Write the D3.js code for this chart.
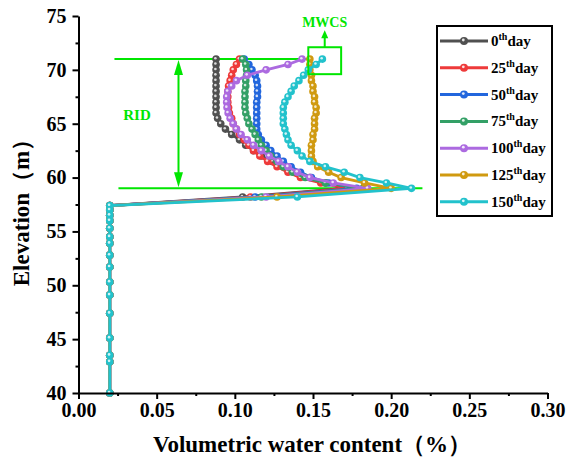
<!DOCTYPE html>
<html>
<head>
<meta charset="utf-8">
<script src="https://cdn.jsdelivr.net/npm/d3@7"></script>
<style>
  body { margin: 0; background: #fff; }
  text { font-family: "Liberation Serif", "Times New Roman", serif; font-weight: bold; }
</style>
</head>
<body>
<script>
// data
var days = ["0", "25", "50", "75", "100", "125", "150"];
var colors = ["#505050", "#ee3a3a", "#2266dd", "#33a066", "#ac6ae0", "#d09a10", "#22c2cc"];

// lower dry zone, same for every day
var lowerElev = [40, 42.9, 43.5, 45.1, 47.4, 49.1, 50.3, 51.7, 52.8, 53.9, 54.5, 55.3, 56.0, 56.5, 57.0, 57.4];
var lowerVWC  = [0.020, 0.020, 0.020, 0.020, 0.020, 0.020, 0.020, 0.020, 0.020, 0.020, 0.020, 0.020, 0.020, 0.020, 0.020, 0.020];

// transition node
var transElev = 58.2;
var transVWC = [0.105, 0.110, 0.113, 0.117, 0.120, 0.127, 0.140];

// upper zone elevations (59 -> 71)
var upperElev = [59, 59.5, 60, 60.5, 61, 61.5, 62, 62.5, 63, 63.5, 64, 64.5, 65, 65.5, 66, 66.5, 67, 67.5, 68, 68.5, 69, 69.5, 70, 70.5, 71];
var vwc0   = [0.170, 0.158, 0.148, 0.139, 0.131, 0.124, 0.117, 0.112, 0.107, 0.103, 0.098, 0.094, 0.091, 0.089, 0.088, 0.088, 0.088, 0.088, 0.088, 0.088, 0.088, 0.088, 0.088, 0.088, 0.088];
var vwc25  = [0.172, 0.155, 0.142, 0.134, 0.127, 0.121, 0.116, 0.112, 0.109, 0.106, 0.103, 0.101, 0.099, 0.098, 0.0965, 0.096, 0.0955, 0.0955, 0.0955, 0.096, 0.097, 0.098, 0.099, 0.101, 0.103];
var vwc50  = [0.178, 0.160, 0.149, 0.142, 0.136, 0.131, 0.127, 0.123, 0.120, 0.117, 0.115, 0.114, 0.114, 0.114, 0.114, 0.114, 0.114, 0.1145, 0.1145, 0.1145, 0.114, 0.113, 0.111, 0.109, 0.106];
var vwc75  = [0.182, 0.158, 0.145, 0.137, 0.131, 0.127, 0.123, 0.120, 0.117, 0.115, 0.113, 0.111, 0.109, 0.108, 0.107, 0.1065, 0.1065, 0.1065, 0.1065, 0.107, 0.107, 0.1075, 0.1075, 0.107, 0.105];
var vwc100 = [0.185, 0.163, 0.148, 0.140, 0.134, 0.128, 0.122, 0.117, 0.112, 0.108, 0.104, 0.101, 0.099, 0.097, 0.0957, 0.095, 0.0948, 0.0948, 0.0955, 0.098, 0.101, 0.108, 0.120, 0.134, 0.143];
var vwc125 = [0.200, 0.183, 0.168, 0.160, 0.153, 0.150, 0.149, 0.149, 0.149, 0.150, 0.150, 0.151, 0.151, 0.151, 0.152, 0.152, 0.151, 0.151, 0.150, 0.150, 0.149, 0.149, 0.148, 0.148, 0.148];
var vwc150 = [0.213, 0.197, 0.180, 0.170, 0.158, 0.148, 0.143, 0.140, 0.136, 0.134, 0.133, 0.132, 0.131, 0.131, 0.131, 0.131, 0.132, 0.134, 0.136, 0.138, 0.141, 0.144, 0.147, 0.152, 0.156];
var upperVWC = [vwc0, vwc25, vwc50, vwc75, vwc100, vwc125, vwc150];

var xTicks = [0, 0.05, 0.10, 0.15, 0.20, 0.25, 0.30];
var yTicks = [40, 45, 50, 55, 60, 65, 70, 75];

// annotation values
var ridTop = 71, ridBottom = 59;
var ridLineStart = 0.023, ridLineEnd = 0.22;
var mwcsBox = {x0: 0.147, x1: 0.168, y0: 69.6, y1: 72.1};

var width = 567, height = 463;
var margin = {top: 16, right: 19.5, bottom: 70, left: 78.5};

var x = d3.scaleLinear().domain([0, 0.3]).range([margin.left, width - margin.right]);
var y = d3.scaleLinear().domain([40, 75]).range([height - margin.bottom, margin.top]);

var svg = d3.select("body").append("svg")
    .attr("width", width)
    .attr("height", height);

// build series
var series = days.map(function (d, i) {
    var pts = lowerElev.map(function (e, j) { return {v: lowerVWC[j], e: e}; });
    pts.push({v: transVWC[i], e: transElev});
    upperElev.forEach(function (e, j) { pts.push({v: upperVWC[i][j], e: e}); });
    return {day: d, color: colors[i], pts: pts};
});

var line = d3.line()
    .x(function (d) { return x(d.v); })
    .y(function (d) { return y(d.e); });

// annotations (under curves)
var green = "#00e600";
var ann = svg.append("g");
ann.append("line")
    .attr("x1", x(ridLineStart)).attr("x2", x(mwcsBox.x0))
    .attr("y1", y(ridTop)).attr("y2", y(ridTop))
    .attr("stroke", green).attr("stroke-width", 2);
ann.append("line")
    .attr("x1", x(ridLineStart) + 4).attr("x2", x(ridLineEnd))
    .attr("y1", y(ridBottom)).attr("y2", y(ridBottom))
    .attr("stroke", green).attr("stroke-width", 2);

var curves = svg.append("g");
series.forEach(function (s) {
    var g = curves.append("g");
    g.append("path")
        .datum(s.pts)
        .attr("d", line)
        .attr("fill", "none")
        .attr("stroke", s.color)
        .attr("stroke-width", 2.8);
    g.selectAll(".m")
        .data(s.pts)
        .enter().append("circle")
        .attr("cx", function (d) { return x(d.v); })
        .attr("cy", function (d) { return y(d.e); })
        .attr("r", 3.8)
        .attr("fill", s.color);
    g.selectAll(".h")
        .data(s.pts)
        .enter().append("circle")
        .attr("cx", function (d) { return x(d.v) - 0.7; })
        .attr("cy", function (d) { return y(d.e) - 0.9; })
        .attr("r", 1.3)
        .attr("fill", "#fff")
        .attr("opacity", 0.8);
});

// RID double arrow
var ax = 178.5;
var arrowTop = y(ridTop), arrowBot = y(ridBottom);
ann = svg.append("g");
ann.append("line")
    .attr("x1", ax).attr("x2", ax)
    .attr("y1", arrowTop + 10).attr("y2", arrowBot - 10)
    .attr("stroke", green).attr("stroke-width", 2);
ann.append("path")
    .attr("d", "M" + ax + "," + (arrowTop + 1) + "L" + (ax - 4.5) + "," + (arrowTop + 16) + "L" + (ax + 4.5) + "," + (arrowTop + 16) + "Z")
    .attr("fill", green);
ann.append("path")
    .attr("d", "M" + ax + "," + (arrowBot - 1) + "L" + (ax - 4.5) + "," + (arrowBot - 16) + "L" + (ax + 4.5) + "," + (arrowBot - 16) + "Z")
    .attr("fill", green);
ann.append("text")
    .attr("x", 137).attr("y", 120)
    .attr("text-anchor", "middle")
    .attr("fill", green)
    .style("font-size", "15px")
    .text("RID");

// MWCS box + arrow
ann.append("rect")
    .attr("x", x(mwcsBox.x0)).attr("y", y(mwcsBox.y1))
    .attr("width", x(mwcsBox.x1) - x(mwcsBox.x0))
    .attr("height", y(mwcsBox.y0) - y(mwcsBox.y1))
    .attr("fill", "none").attr("stroke", green).attr("stroke-width", 2);
var mx = (x(mwcsBox.x0) + x(mwcsBox.x1)) / 2;
ann.append("line")
    .attr("x1", mx).attr("x2", mx)
    .attr("y1", y(mwcsBox.y1)).attr("y2", y(mwcsBox.y1) - 10)
    .attr("stroke", green).attr("stroke-width", 2);
ann.append("path")
    .attr("d", "M" + mx + "," + (y(mwcsBox.y1) - 17) + "L" + (mx - 3.5) + "," + (y(mwcsBox.y1) - 9) + "L" + (mx + 3.5) + "," + (y(mwcsBox.y1) - 9) + "Z")
    .attr("fill", green);
ann.append("text")
    .attr("x", mx).attr("y", y(mwcsBox.y1) - 20)
    .attr("text-anchor", "middle")
    .attr("fill", green)
    .style("font-size", "14px")
    .text("MWCS");

// axes
var xMinor = d3.range(0.025, 0.3, 0.05);
var yMinor = d3.range(42.5, 75, 5);

var xAxis = svg.append("g")
    .attr("transform", "translate(0," + y(40) + ")")
    .call(d3.axisBottom(x).tickValues(xTicks).tickFormat(d3.format(".2f")).tickSize(6).tickSizeOuter(0).tickPadding(4));
svg.append("g")
    .attr("transform", "translate(0," + y(40) + ")")
    .call(d3.axisBottom(x).tickValues(xMinor).tickFormat("").tickSize(3).tickSizeOuter(0))
    .select(".domain").remove();

var yAxis = svg.append("g")
    .attr("transform", "translate(" + x(0) + ",0)")
    .call(d3.axisLeft(y).tickValues(yTicks).tickSize(6).tickSizeOuter(0).tickPadding(6));
svg.append("g")
    .attr("transform", "translate(" + x(0) + ",0)")
    .call(d3.axisLeft(y).tickValues(yMinor).tickFormat("").tickSize(3).tickSizeOuter(0))
    .select(".domain").remove();

svg.selectAll(".domain, .tick line").attr("stroke", "#000").attr("stroke-width", 2);
xAxis.selectAll("text").style("font-size", "20px").attr("fill", "#000");
yAxis.selectAll("text").style("font-size", "20px").attr("fill", "#000");

svg.append("text")
    .attr("x", 312).attr("y", 452)
    .attr("text-anchor", "middle")
    .style("font-size", "23px")
    .text("Volumetric water content（%）");

svg.append("text")
    .attr("transform", "translate(29," + 207 + ") rotate(-90)")
    .attr("text-anchor", "middle")
    .style("font-size", "23px")
    .text("Elevation（m）");

// legend
var leg = svg.append("g");
leg.append("rect")
    .attr("x", 437).attr("y", 26)
    .attr("width", 115).attr("height", 190)
    .attr("fill", "#fff").attr("stroke", "#000").attr("stroke-width", 2);
series.forEach(function (s, i) {
    var ly = 41 + i * 26.8;
    leg.append("line")
        .attr("x1", 440).attr("x2", 488)
        .attr("y1", ly).attr("y2", ly)
        .attr("stroke", s.color).attr("stroke-width", 3);
    leg.append("circle").attr("cx", 464).attr("cy", ly).attr("r", 4).attr("fill", s.color);
    leg.append("circle").attr("cx", 463.3).attr("cy", ly - 1).attr("r", 1.4).attr("fill", "#fff").attr("opacity", 0.85);
    var t = leg.append("text")
        .attr("x", 491).attr("y", ly + 5)
        .style("font-size", "15px");
    t.append("tspan").text(s.day);
    t.append("tspan").attr("dy", -6).style("font-size", "10px").text("th");
    t.append("tspan").attr("dy", 6).text("day");
});
</script>
</body>
</html>
